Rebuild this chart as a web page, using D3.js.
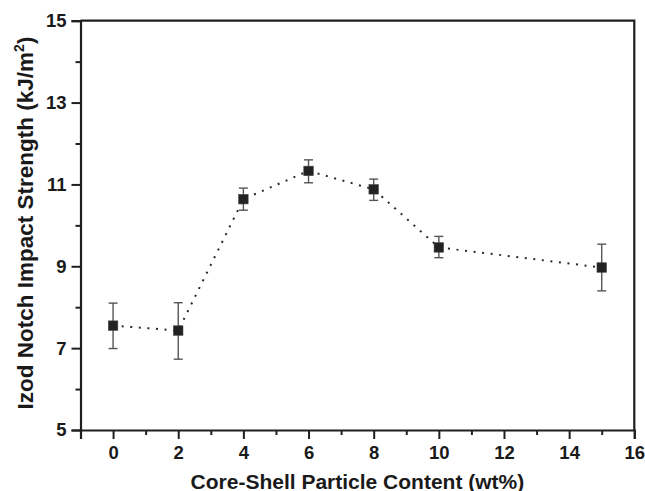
<!DOCTYPE html>
<html>
<head>
<meta charset="utf-8">
<script src="https://cdn.jsdelivr.net/npm/d3@7"></script>
<style>
  html, body { margin: 0; padding: 0; background: #fff; }
  svg { display: block; }
  text { font-family: "Liberation Sans", Arial, Helvetica, sans-serif; font-weight: bold; fill: #1a1a1a; }
</style>
</head>
<body>
<svg id="chart" width="645" height="491"></svg>
<script>
// ---- data ----
const contents = [0, 2, 4, 6, 8, 10, 15];
const strength = [7.55, 7.43, 10.64, 11.33, 10.88, 9.46, 8.97];
const errLow   = [6.99, 6.73, 10.37, 11.04, 10.61, 9.21, 8.40];
const errHigh  = [8.10, 8.11, 10.91, 11.60, 11.13, 9.73, 9.54];
const xMajorTicks = [0, 2, 4, 6, 8, 10, 12, 14, 16];
const xMinorTicks = [1, 3, 5, 7, 9, 11, 13, 15];
const yMajorTicks = [5, 7, 9, 11, 13, 15];
const yMinorTicks = [6, 8, 10, 12, 14];
const xTitle = "Core-Shell Particle Content (wt%)";
const yTitleMain = "Izod Notch Impact Strength (kJ/m";
const yTitleSup = "2";
const yTitleEnd = ")";

const svg = d3.select("#chart");
const m = { left: 80.5, right: 634.3, top: 20.7, bottom: 430 };

const x = d3.scaleLinear().domain([-1, 16]).range([m.left, m.right]);
const y = d3.scaleLinear().domain([5, 15]).range([m.bottom, m.top]);

const axisColor = "#1f1f1f";

// frame (top & right)
svg.append("path")
  .attr("d", `M${m.left},${m.top}H${m.right}V${m.bottom}`)
  .attr("fill", "none").attr("stroke", axisColor).attr("stroke-width", 2.2);

// x axis
const gx = svg.append("g").attr("transform", `translate(0,${m.bottom})`);
gx.call(d3.axisBottom(x).tickValues(xMajorTicks).tickSize(9).tickPadding(7).tickFormat(d3.format("d")));
const gxm = svg.append("g").attr("transform", `translate(0,${m.bottom})`);
gxm.call(d3.axisBottom(x).tickValues(xMinorTicks).tickSize(5).tickFormat(""));
gxm.select(".domain").remove();

// y axis
const gy = svg.append("g").attr("transform", `translate(${m.left},0)`);
gy.call(d3.axisLeft(y).tickValues(yMajorTicks).tickSize(9).tickPadding(5).tickFormat(d3.format("d")));
const gym = svg.append("g").attr("transform", `translate(${m.left},0)`);
gym.call(d3.axisLeft(y).tickValues(yMinorTicks).tickSize(5).tickFormat(""));
gym.select(".domain").remove();

svg.selectAll(".domain").attr("stroke", axisColor).attr("stroke-width", 2.2);
svg.selectAll(".tick line").attr("stroke", axisColor).attr("stroke-width", 2);
svg.selectAll(".tick text")
  .style("font-family", '"Liberation Sans", Arial, sans-serif')
  .style("font-weight", "bold").style("font-size", "18.5px").attr("fill", "#1a1a1a");

// dotted connecting line
const pts = contents.map((c, i) => [c, strength[i]]);
svg.append("path")
  .datum(pts)
  .attr("d", d3.line().x(d => x(d[0])).y(d => y(d[1])))
  .attr("fill", "none").attr("stroke", "#2a2a2a")
  .attr("stroke-width", 2).attr("stroke-dasharray", "2,6.6");

// error bars
const eb = svg.append("g").attr("stroke", "#555").attr("stroke-width", 1.4).attr("fill", "none");
contents.forEach((c, i) => {
  const cx = x(c);
  eb.append("line").attr("x1", cx).attr("x2", cx).attr("y1", y(errLow[i])).attr("y2", y(errHigh[i]));
  eb.append("line").attr("x1", cx - 4.5).attr("x2", cx + 4.5).attr("y1", y(errLow[i])).attr("y2", y(errLow[i]));
  eb.append("line").attr("x1", cx - 4.5).attr("x2", cx + 4.5).attr("y1", y(errHigh[i])).attr("y2", y(errHigh[i]));
});

// square markers
const s = 9.5;
svg.append("g").selectAll("rect").data(pts).join("rect")
  .attr("x", d => x(d[0]) - s / 2).attr("y", d => y(d[1]) - s / 2)
  .attr("width", s).attr("height", s)
  .attr("fill", "#222").attr("stroke", "#444").attr("stroke-width", 0.6);

// axis titles
svg.append("text")
  .attr("x", (m.left + m.right) / 2).attr("y", 488.5)
  .attr("text-anchor", "middle").style("font-size", "21px")
  .text(xTitle);

const yt = svg.append("text")
  .attr("transform", `translate(33,223) rotate(-90)`)
  .attr("text-anchor", "middle").style("font-size", "22.5px");
yt.append("tspan").text(yTitleMain);
yt.append("tspan").attr("dy", -9).style("font-size", "14px").text(yTitleSup);
yt.append("tspan").attr("dy", 9).text(yTitleEnd);
</script>
</body>
</html>
